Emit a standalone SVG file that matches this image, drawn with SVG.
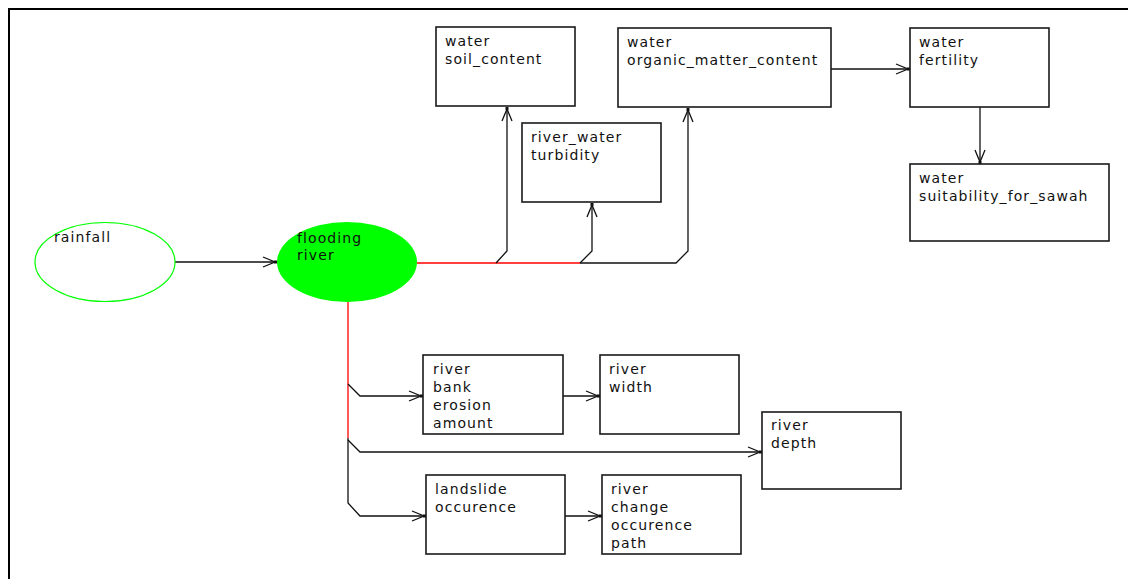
<svg xmlns="http://www.w3.org/2000/svg" width="1128" height="579" viewBox="0 0 1128 579">
  <style>
    .box { fill: #ffffff; stroke: #1a1a1a; stroke-width: 1.6; }
    .lbl { font-family: "DejaVu Sans", sans-serif; font-size: 14px; letter-spacing: 1.1px; fill: #111111; }
    .wire { fill: none; stroke: #111111; stroke-width: 1.3; }
    .hot { fill: none; stroke: #ff0000; stroke-width: 1.3; }
    .frame { fill: none; stroke: #000000; stroke-width: 2; }
  </style>
  <defs>
    <marker id="head" markerUnits="userSpaceOnUse" markerWidth="20" markerHeight="14" refX="0" refY="0" orient="auto" overflow="visible" viewBox="-16 -7 18 14">
      <path d="M-14,-5 L-2,0 L-14,5" fill="none" stroke="#111111" stroke-width="1.3"/>
      <rect x="-3" y="-1.5" width="3" height="3" fill="#111111"/>
    </marker>
  </defs>

  <rect width="1128" height="579" fill="#ffffff"/>
  <!-- canvas frame -->
  <path class="frame" d="M9,579 V9 H1128"/>

  <!-- connectors -->
  <g id="connectors">
    <path class="wire" d="M175,262 H277" marker-end="url(#head)"/>
    <path class="hot" d="M417,263 H580"/>
    <path class="wire" d="M580,263 H676 L688,251 V108" marker-end="url(#head)"/>
    <path class="wire" d="M496,263 L507,251 V107" marker-end="url(#head)"/>
    <path class="wire" d="M580,263 L592,251 V203" marker-end="url(#head)"/>
    <path class="wire" d="M831,69 H910" marker-end="url(#head)"/>
    <path class="wire" d="M980,107 V164" marker-end="url(#head)"/>
    <path class="hot" d="M348,302 V438"/>
    <path class="wire" d="M348,438 V503 L360,516 H426" marker-end="url(#head)"/>
    <path class="wire" d="M348,384 L360,396 H423" marker-end="url(#head)"/>
    <path class="wire" d="M348,440 L360,452 H762" marker-end="url(#head)"/>
    <path class="wire" d="M563,396 H600" marker-end="url(#head)"/>
    <path class="wire" d="M565,516 H602" marker-end="url(#head)"/>
  </g>

  <!-- nodes -->
  <g id="rainfall">
    <ellipse cx="105" cy="262" rx="70" ry="39.5" fill="#ffffff" stroke="#00ff00" stroke-width="1.2"/>
    <text class="lbl" x="54" y="242">rainfall</text>
  </g>
  <g id="flooding_river">
    <ellipse cx="347" cy="262" rx="70" ry="40" fill="#00ff00"/>
    <text class="lbl" x="297" y="243">flooding</text>
    <text class="lbl" x="297" y="260">river</text>
  </g>
  <g id="water_soil_content">
    <rect class="box" x="436" y="27" width="139" height="79"/>
    <text class="lbl" x="445" y="46">water</text>
    <text class="lbl" x="445" y="64">soil_content</text>
  </g>
  <g id="river_water_turbidity">
    <rect class="box" x="522" y="123" width="139" height="79"/>
    <text class="lbl" x="531" y="142">river_water</text>
    <text class="lbl" x="531" y="160">turbidity</text>
  </g>
  <g id="water_organic_matter_content">
    <rect class="box" x="618" y="28" width="213" height="79"/>
    <text class="lbl" x="627" y="47">water</text>
    <text class="lbl" x="627" y="65">organic_matter_content</text>
  </g>
  <g id="water_fertility">
    <rect class="box" x="910" y="28" width="139" height="79"/>
    <text class="lbl" x="919" y="47">water</text>
    <text class="lbl" x="919" y="65">fertility</text>
  </g>
  <g id="water_suitability_for_sawah">
    <rect class="box" x="910" y="164" width="199" height="77"/>
    <text class="lbl" x="919" y="183">water</text>
    <text class="lbl" x="919" y="201">suitability_for_sawah</text>
  </g>
  <g id="river_bank_erosion_amount">
    <rect class="box" x="423" y="355" width="140" height="79"/>
    <text class="lbl" x="433" y="374">river</text>
    <text class="lbl" x="433" y="392">bank</text>
    <text class="lbl" x="433" y="410">erosion</text>
    <text class="lbl" x="433" y="428">amount</text>
  </g>
  <g id="river_width">
    <rect class="box" x="600" y="355" width="139" height="79"/>
    <text class="lbl" x="609" y="374">river</text>
    <text class="lbl" x="609" y="392">width</text>
  </g>
  <g id="river_depth">
    <rect class="box" x="762" y="412" width="139" height="77"/>
    <text class="lbl" x="771" y="430">river</text>
    <text class="lbl" x="771" y="448">depth</text>
  </g>
  <g id="landslide_occurence">
    <rect class="box" x="426" y="475" width="139" height="79"/>
    <text class="lbl" x="435" y="494">landslide</text>
    <text class="lbl" x="435" y="512">occurence</text>
  </g>
  <g id="river_change_occurence_path">
    <rect class="box" x="602" y="475" width="139" height="79"/>
    <text class="lbl" x="611" y="494">river</text>
    <text class="lbl" x="611" y="512">change</text>
    <text class="lbl" x="611" y="530">occurence</text>
    <text class="lbl" x="611" y="548">path</text>
  </g>
</svg>
